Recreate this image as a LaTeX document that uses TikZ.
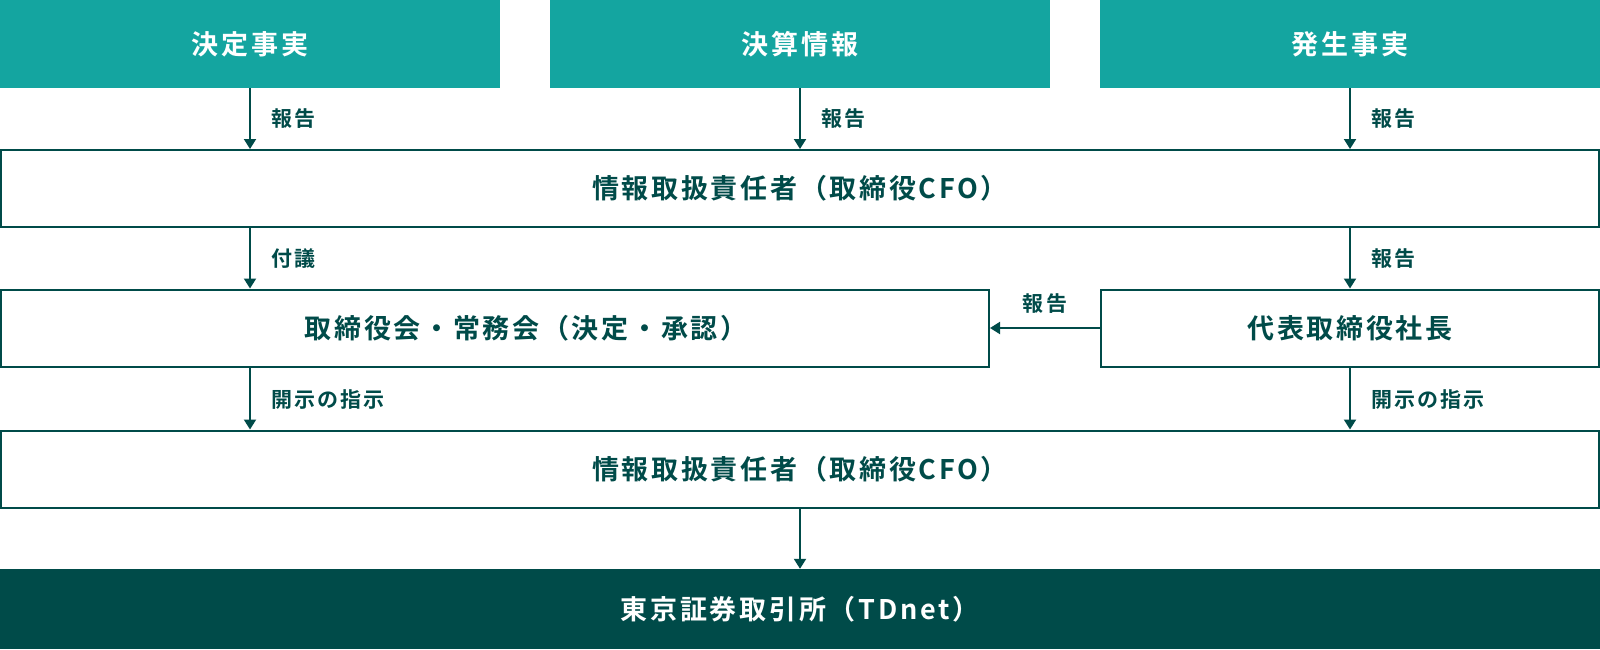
\documentclass[tikz,border=0pt]{standalone}
\usepackage{fontspec}
\setmainfont{Noto Sans CJK JP}[BoldFont={* Bold}, LetterSpace=10]
\usetikzlibrary{arrows.meta}
\definecolor{teal1}{HTML}{14A5A0}
\definecolor{dark1}{HTML}{004B49}
\tikzset{
  topbox/.style={fill=teal1, draw=none, inner sep=0pt, minimum width=500pt, minimum height=88pt,
    text=white, font=\bfseries\fontsize{27}{27}\selectfont},
  linebox/.style={draw=dark1, line width=2pt, fill=white, inner sep=0pt, minimum height=77pt,
    text=dark1, font=\bfseries\fontsize{27}{27}\selectfont},
  darkbox/.style={fill=dark1, draw=none, inner sep=0pt, minimum width=1600pt, minimum height=80pt,
    text=white, font=\bfseries\fontsize{27}{27}\selectfont},
  boxtext/.style={text=dark1, inner sep=0pt, font=\bfseries\fontsize{27}{27}\selectfont},
  conn/.style={draw=dark1, line width=2pt, -{Triangle[width=12pt,length=10pt]}},
  lbl/.style={text=dark1, inner sep=0pt, font=\bfseries\fontsize{21}{21}\selectfont}
}
\begin{document}
\begin{tikzpicture}[x=1pt,y=-1pt]
\useasboundingbox (0,0) rectangle (1600,649);
\node[topbox] (tl) at (250,44) {決定事実};
\node[topbox] (tm) at (800,44) {決算情報};
\node[topbox] (tr) at (1350,44) {発生事実};
\node[linebox, minimum width=1598pt] (cfo1) at (800,188.5) {情報取扱責任者（取締役CFO）};
\node[linebox, minimum width=988pt] (board) at (495,328) {};
\node[boxtext] (boardtext) at (526,328) {取締役会・常務会（決定・承認）};
\node[linebox, minimum width=498pt] (pres) at (1350,328) {代表取締役社長};
\node[linebox, minimum width=1598pt] (cfo2) at (800,469) {情報取扱責任者（取締役CFO）};
\node[darkbox] (tse) at (800,609) {東京証券取引所（TDnet）};

\draw[conn] (tl.south) -- (tl.south |- cfo1.north);
\draw[conn] (tm.south) -- (tm.south |- cfo1.north);
\draw[conn] (tr.south) -- (tr.south |- cfo1.north);
\draw[conn] (tl.south |- cfo1.south) -- (tl.south |- board.north);
\draw[conn] (tr.south |- cfo1.south) -- (pres.north);
\draw[conn] (pres.west) -- (board.east);
\draw[conn] (tl.south |- board.south) -- (tl.south |- cfo2.north);
\draw[conn] (pres.south) -- (pres.south |- cfo2.north);
\draw[conn] (cfo2.south) -- (tse.north);

\node[lbl, anchor=west] (l1) at (271,118.5) {報告};
\node[lbl, anchor=west] (l2) at (821,118.5) {報告};
\node[lbl, anchor=west] (l3) at (1371,118.5) {報告};
\node[lbl, anchor=west] (l4) at (271,258.5) {付議};
\node[lbl, anchor=west] (l5) at (1371,258.5) {報告};
\node[lbl] (l6) at (1045,304) {報告};
\node[lbl, anchor=west] (l7) at (271,399.5) {開示の指示};
\node[lbl, anchor=west] (l8) at (1371,399.5) {開示の指示};
\end{tikzpicture}
\end{document}
